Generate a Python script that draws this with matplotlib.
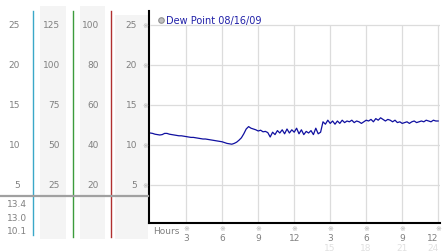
import numpy as np
import matplotlib.pyplot as plt
from matplotlib.lines import Line2D
from matplotlib.patches import Rectangle
from matplotlib.transforms import blended_transform_factory

# dew point readings, every 0.2 h from 0 to 24 h
dew_point = [
    11.5, 11.45, 11.35, 11.3, 11.25, 11.3, 11.45, 11.45, 11.35, 11.3, 11.25,
    11.2, 11.15, 11.15, 11.1, 11.05, 11.0, 10.95, 10.95, 10.9, 10.85,
    10.8, 10.75, 10.75, 10.7, 10.65, 10.6, 10.55, 10.5, 10.45, 10.4,
    10.3, 10.2, 10.15, 10.1, 10.2, 10.35, 10.6, 10.9, 11.4, 12.0,
    12.3, 12.1, 12.0, 11.9, 11.75, 11.85, 11.65, 11.7, 11.55, 11.0,
    11.6, 11.3, 11.8, 11.5, 11.9, 11.4, 12.0, 11.5, 11.9, 11.6,
    12.1, 11.4, 11.9, 11.3, 11.7, 11.5, 11.8, 11.3, 12.1, 11.4,
    11.6, 12.9, 12.6, 13.1, 12.7, 13.0, 12.6, 13.0, 12.7, 13.1,
    12.8, 13.0, 12.9, 13.1, 12.8, 13.0, 12.9, 12.7, 12.9, 13.1,
    13.0, 13.2, 12.9, 13.3, 13.1, 13.4, 13.2, 13.0, 13.2, 13.1,
    12.9, 13.1, 12.8, 12.9, 12.7, 12.8, 12.9, 12.7, 12.9, 13.0,
    12.8, 12.9, 13.0, 12.9, 13.1, 13.0, 12.9, 13.1, 13.0, 13.0,
]
hours = np.linspace(0, 24, len(dew_point))

x_ticks = [3, 6, 9, 12, 15, 18, 21, 24]
x_labels = ["3", "6", "9", "12", "3", "6", "9", "12"]
x_labels_24 = ["15", "18", "21", "24"]
y_ticks = [25, 20, 15, 10, 5]
scale_a = [125, 100, 75, 50, 25]
scale_b = [100, 80, 60, 40, 20]
stats = ["13.4", "13.0", "10.1"]
legend_label = "Dew Point 08/16/09"

W, H = 442, 253
def fx(x):
    return x / W
def fy(y):
    return 1 - y / H

fig = plt.figure(figsize=(W / 100, H / 100), dpi=100)
ax = fig.add_axes([fx(149), fy(224), fx(440 - 149), (224 - 12) / H])

grey_txt = '#808080'
fs = 6.5

# left side columns
for x0, x1, y0 in [(40, 66, 7), (80, 105, 7), (115, 148, 16)]:
    fig.add_artist(Rectangle((fx(x0), fy(240)), fx(x1 - x0), (240 - y0) / H,
                             transform=fig.transFigure, fc='#f4f4f4', ec='none', zorder=0))
for x, c, yb in [(33.3, '#3aa8c8', 236), (72.7, '#3c9c3c', 238), (111.3, '#b03030', 238)]:
    fig.add_artist(Line2D([fx(x), fx(x)], [fy(12), fy(yb)], transform=fig.transFigure,
                          color=c, lw=1.0))
fig.add_artist(Line2D([0, fx(148)], [fy(197), fy(197)], transform=fig.transFigure,
                      color='#a0a0a0', lw=1.6))

side = blended_transform_factory(fig.transFigure, ax.transData)
for v, a, b in zip(y_ticks, scale_a, scale_b):
    fig.text(fx(20), v, str(v), transform=side, ha='right', va='center', fontsize=fs, color=grey_txt)
    fig.text(fx(60), v, str(a), transform=side, ha='right', va='center', fontsize=fs, color=grey_txt)
    fig.text(fx(99), v, str(b), transform=side, ha='right', va='center', fontsize=fs, color=grey_txt)
    fig.text(fx(137), v, str(v), transform=side, ha='right', va='center', fontsize=fs, color=grey_txt)
    fig.text(fx(145.5), v, '※', transform=side, ha='center', va='center', fontsize=5, color='#b0b0b0')

for i, s in enumerate(stats):
    fig.text(fx(27), fy(205 + i * 13.5), s, ha='right', va='center', fontsize=fs, color=grey_txt)

# main chart
ax.set_xlim(-0.1, 24.15)
ax.set_ylim(0.25, 26.75)
ax.vlines(x_ticks, 0.25, 25, color='#dcdcdc', lw=0.9, zorder=0)
ax.hlines(y_ticks, 0, 24.15, color='#dcdcdc', lw=0.9, zorder=0)
ax.plot(hours, dew_point, color='#1010a0', lw=0.9)
ax.set_xticks([])
ax.set_yticks([])
for s in ['top', 'right']:
    ax.spines[s].set_visible(False)
for s in ['left', 'bottom']:
    ax.spines[s].set_linewidth(1.5)
ax.patch.set_alpha(0)

bottom = blended_transform_factory(ax.transData, fig.transFigure)
for t, lab in zip(x_ticks, x_labels):
    fig.text(t, fy(229.5), '※', transform=bottom, ha='center', va='center', fontsize=5, color='#b0b0b0')
    fig.text(t, fy(238.5), lab, transform=bottom, ha='right' if t == 24 else 'center',
             va='center', fontsize=fs, color=grey_txt)
for t, lab in zip(x_ticks[4:], x_labels_24):
    fig.text(t, fy(249), lab, transform=bottom, ha='right' if t == 24 else 'center',
             va='center', fontsize=fs, color='#e0e0e0')
fig.text(fx(153), fy(232), 'Hours', ha='left', va='center', fontsize=fs, color=grey_txt)

fig.add_artist(Line2D([fx(160.7)], [fy(20.7)], transform=fig.transFigure, marker='o',
                      ms=4, mfc='#c0c0c0', mec='#909090', mew=0.8))
fig.text(fx(165.5), fy(20.7), legend_label, ha='left', va='center', fontsize=7, color='#2020a8')

fig.savefig('out.png', dpi=100)
